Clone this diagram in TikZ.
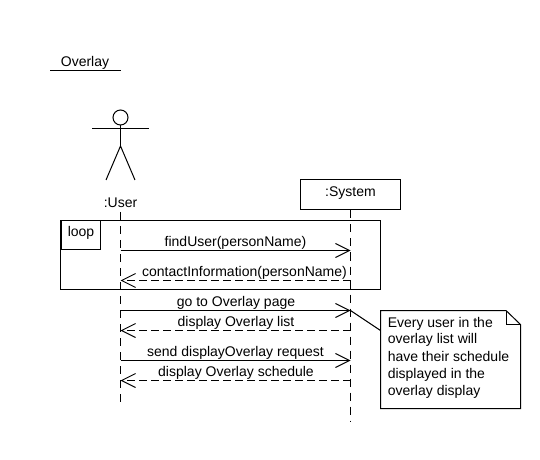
\documentclass[tikz,border=0pt]{standalone}
\usepackage{fontspec}
\setmainfont{Liberation Sans}
\usetikzlibrary{arrows.meta}
\tikzset{
  x=0.75pt,y=-0.75pt,
  every node/.style={font=\fontsize{10.5pt}{12pt}\selectfont,text=black},
  lbl/.style={inner sep=0pt,anchor=base},
  ln/.style={draw=black,line width=0.75pt},
  life/.style={ln,dash pattern=on 6pt off 4.5pt},
  sync/.style={ln,-{Straight Barb[length=10.5pt,width=10.5pt,line width=0.75pt]}},
  ret/.style={ln,dash pattern=on 6pt off 3pt,-{Straight Barb[length=10.5pt,width=10.5pt,line width=0.75pt]}},
}
\begin{document}
\begin{tikzpicture}
\useasboundingbox (0,0) rectangle (540,460);
\fill[white] (0,0) rectangle (540,460);
% title
\node[lbl] (title) at (85,66.7) {Overlay};
\coordinate (tl) at (50,70.5); \coordinate (tr) at (121,70.5);
\draw[ln] (tl) -- (tr);
% actor
\node[draw=black,line width=0.75pt,circle,minimum size=11.25pt,inner sep=0pt] (head) at (120.5,117.5) {};
\coordinate (armL) at (92,128.5); \coordinate (armR) at (149,128.5);
\coordinate (hip) at (120.5,146); \coordinate (legL) at (106,180); \coordinate (legR) at (135,180);
\draw[ln] (head) -- (hip);
\draw[ln] (armL) -- (armR);
\draw[ln] (legL) -- (hip) -- (legR);
\node[lbl] (user) at (120.5,208) {:User};
% system
\node[draw=black,line width=0.75pt,minimum width=75pt,minimum height=22.5pt,inner sep=0pt,fill=white] (sys) at (350.5,195) {};
\node[lbl] (systxt) at (350.5,197) {:System};
% lifelines
\coordinate (userTop) at (120.5,212); \coordinate (userEnd) at (120.5,402);
\coordinate (sysEnd) at (350.5,421);
\draw[life] (userTop) -- (userEnd);
\draw[life] (sys.south) -- (sysEnd);
% loop frame
\coordinate (f1) at (60.5,220.5); \coordinate (f2) at (380.5,289.5);
\draw[ln] (f1) rectangle (f2);
\node[draw=black,line width=0.75pt,minimum width=29.6pt,minimum height=21.75pt,inner sep=0pt,anchor=north west] (tab) at (f1) {};
\node[lbl] (looptxt) at (81,236.7) {loop};
% messages
\foreach \n/\y in {a/250.5,b/280.5,c/310.5,d/330.5,e/360.5,f/380.5}{
  \coordinate (u\n) at (120.5,\y);
  \coordinate (s\n) at (350.5,\y);
}
\draw[sync] (ua) -- (sa);
\draw[ret] (sb) -- (ub);
\draw[sync] (uc) -- (sc);
\draw[ret] (sd) -- (ud);
\draw[sync] (ue) -- (se);
\draw[ret] (sf) -- (uf);
\node[lbl] (m1) at (235.5,246.7) {findUser(personName)};
\node[lbl] (m2) at (244.5,276.7) {contactInformation(personName)};
\node[lbl] (m3) at (236,306.7) {go to Overlay page};
\node[lbl] (m4) at (236,326.7) {display Overlay list};
\node[lbl] (m5) at (235.5,356.7) {send displayOverlay request};
\node[lbl] (m6) at (236,376.7) {display Overlay schedule};
% note
\coordinate (n1) at (380.5,310.5); \coordinate (n2) at (506,310.5);
\coordinate (n3) at (520.5,324.5); \coordinate (n4) at (520.5,408.5); \coordinate (n5) at (380.5,408.5);
\coordinate (nf) at (506,324.5);
\draw[ln] (n1) -- (n2) -- (n3) -- (n4) -- (n5) -- cycle;
\draw[ln] (n2) -- (nf) -- (n3);
\coordinate (na) at (380.5,330.5);
\draw[ln] (sc) -- (na);
\node[lbl,anchor=base west] (t1) at (387.5,327) {Every user in the};
\node[lbl,anchor=base west] (t2) at (387.5,344) {overlay list will};
\node[lbl,anchor=base west] (t3) at (387.5,361) {have their schedule};
\node[lbl,anchor=base west] (t4) at (387.5,378) {displayed in the};
\node[lbl,anchor=base west] (t5) at (387.5,395) {overlay display};
\end{tikzpicture}
\end{document}
